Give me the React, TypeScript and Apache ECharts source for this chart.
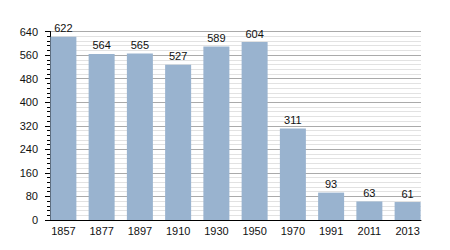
import React, { useEffect, useRef } from "react";
import * as echarts from "echarts";

const years = ["1857", "1877", "1897", "1910", "1930", "1950", "1970", "1991", "2011", "2013"];
const population = [622, 564, 565, 527, 589, 604, 311, 93, 63, 61];
const yTicks = { min: 0, max: 640, interval: 80 };

export default function App() {
  const ref = useRef<HTMLDivElement>(null);
  useEffect(() => {
    if (!ref.current) return;
    const chart = echarts.init(ref.current, null, { renderer: "svg" });
    const font = "'Liberation Sans', Arial, sans-serif";
    chart.setOption({
      animation: false,
      grid: { left: 50, right: 29, top: 31.5, bottom: 30 },
      xAxis: {
        type: "value",
        min: -0.35,
        max: 9.35,
        axisLine: { show: true, onZero: false, lineStyle: { color: "#000", width: 1 } },
        axisTick: { show: false },
        splitLine: { show: false },
        axisLabel: {
          customValues: years.map((_, i) => i),
          formatter: (v: number) => years[Math.round(v)] ?? "",
          color: "#111",
          fontFamily: font,
          fontSize: 11,
          margin: 5,
        },
      },
      yAxis: {
        type: "value",
        min: yTicks.min,
        max: yTicks.max,
        interval: yTicks.interval,
        axisLine: { show: true, onZero: false, lineStyle: { color: "#000", width: 1 } },
        axisTick: { show: true, length: 5, lineStyle: { color: "#000" } },
        minorTick: { show: true, splitNumber: 5, length: 3, lineStyle: { color: "#000" } },
        splitLine: { show: true, lineStyle: { color: "#aaaaaa", width: 1 } },
        minorSplitLine: { show: true, lineStyle: { color: "#e2e2e2", width: 1 } },
        axisLabel: { color: "#111", fontFamily: font, fontSize: 11, margin: 12 },
      },
      series: [
        {
          type: "bar",
          data: population.map((v, i) => [i, v]),
          barWidth: 26,
          itemStyle: { color: "#99b3cf" },
          label: {
            show: true,
            position: "top",
            distance: 3,
            color: "#111",
            fontFamily: font,
            fontSize: 11,
            formatter: (p: any) => String(p.value[1]),
          },
        },
      ],
    });
    return () => chart.dispose();
  }, []);
  return <div ref={ref} style={{ width: 450, height: 250, margin: -8 }} />;
}
